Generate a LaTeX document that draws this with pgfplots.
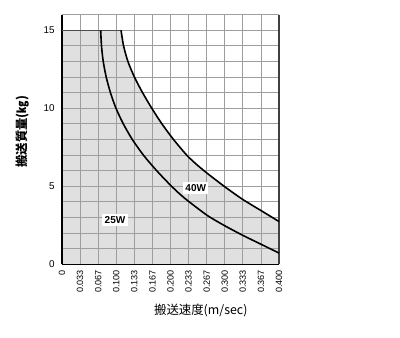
\documentclass[border=0pt]{standalone}
\usepackage{fontspec}
\setmainfont{Liberation Sans}
\newfontfamily\jp{Noto Sans CJK JP}
\usepackage{pgfplots}
\pgfplotsset{compat=1.18}
\definecolor{fillgray}{RGB}{224,224,224}
\definecolor{gridgray}{RGB}{158,158,158}
\pgfplotstableread{
v m
0.1088 15
0.1135 14
0.1215 13
0.1335 12
0.1485 11
0.1655 10
0.1842 9
0.2055 8
0.2298 7
0.2480 6.40
0.267 5.85
0.3 4.97
0.333 4.16
0.367 3.44
0.4 2.74
}\wfourty
\pgfplotstableread{
v m
0.0713 15
0.0728 14
0.0760 13
0.0815 12
0.0893 11
0.0995 10
0.1130 9
0.1296 8
0.1500 7
0.1745 6
0.2020 5
0.2255 4.25
0.267 3.15
0.3 2.47
0.333 1.86
0.367 1.28
0.4 0.72
}\wtwentyfive
\begin{document}
\begin{tikzpicture}
\begin{axis}[
  at={(0,0)}, anchor=south west,
  set layers,
  scale only axis,
  width=162.75pt, height=187.2pt,
  xmin=0, xmax=0.4, ymin=0, ymax=16,
  axis x line*=bottom, axis y line*=left,
  axis line style={-, black, line width=1.1pt},
  xtick={0,0.033333,0.066667,0.1,0.133333,0.166667,0.2,0.233333,0.266667,0.3,0.333333,0.366667,0.4},
  xticklabels={0,0.033,0.067,0.100,0.133,0.167,0.200,0.233,0.267,0.300,0.333,0.367,0.400},
  ytick={0,5,10,15},
  minor ytick={1,2,3,4,6,7,8,9,11,12,13,14,16},
  grid=both,
  major grid style={gridgray, line width=0.6pt},
  minor grid style={gridgray, line width=0.6pt},
  major tick length=0pt, minor tick length=0pt,
  /pgf/number format/assume math mode=true,
  xticklabel style={rotate=90, anchor=east, font=\fontsize{6.8}{7}\selectfont, xshift=-1pt},
  yticklabel style={font=\fontsize{7.4}{8}\selectfont, xshift=-2pt},
  xlabel={\jp 搬送速度(m/sec)},
  xlabel style={at={(axis description cs:0.6397,0)}, anchor=center, yshift=-35pt, font=\fontsize{9.3}{10}\selectfont},
  ylabel={\jp\bfseries 搬送質量(㎏)},
  ylabel style={at={(axis description cs:0,0.531)}, anchor=center, yshift=29.6pt, font=\fontsize{9.3}{10}\selectfont},
  clip=false,
]
% shaded region under 40W envelope
\addplot[fill=fillgray, draw=none, on layer=axis background] coordinates {
  (0,0) (0,15) (0.1088,15)} -- plot[smooth, tension=0.45] coordinates {
  (0.1088,15) (0.1135,14) (0.1215,13) (0.1335,12) (0.1485,11) (0.1655,10)
  (0.1842,9) (0.2055,8) (0.2298,7) (0.2480,6.40) (0.267,5.85) (0.3,4.97) (0.333,4.16)
  (0.367,3.44) (0.4,2.74)} -- (axis cs:0.4,0) -- cycle;
% top and right borders
\addplot[gridgray, line width=0.7pt] coordinates {(0,16) (0.4,16)};
\addplot[black!75, line width=1.5pt] coordinates {(0.4,0) (0.4,16)};
% flat 15 kg line
\addplot[black!70, line width=1.1pt] coordinates {(0,15) (0.1088,15)};
% 25W
\addplot[black, line width=1.2pt, smooth, tension=0.45] table[x=v,y=m] {\wtwentyfive};
% 40W
\addplot[black, line width=1.2pt, smooth, tension=0.45] table[x=v,y=m] {\wfourty};
\node[fill=white, inner sep=1.7pt, font=\fontsize{7.5}{8}\selectfont\bfseries] at (axis cs:0.0977,2.84) {25W};
\node[fill=white, inner sep=1.7pt, font=\fontsize{7.5}{8}\selectfont\bfseries] at (axis cs:0.2466,4.89) {40W};
\end{axis}
\pgfresetboundingbox
\useasboundingbox (-46.5pt,-55.3pt) rectangle (253.5pt,198.2pt);
\end{tikzpicture}
\end{document}
